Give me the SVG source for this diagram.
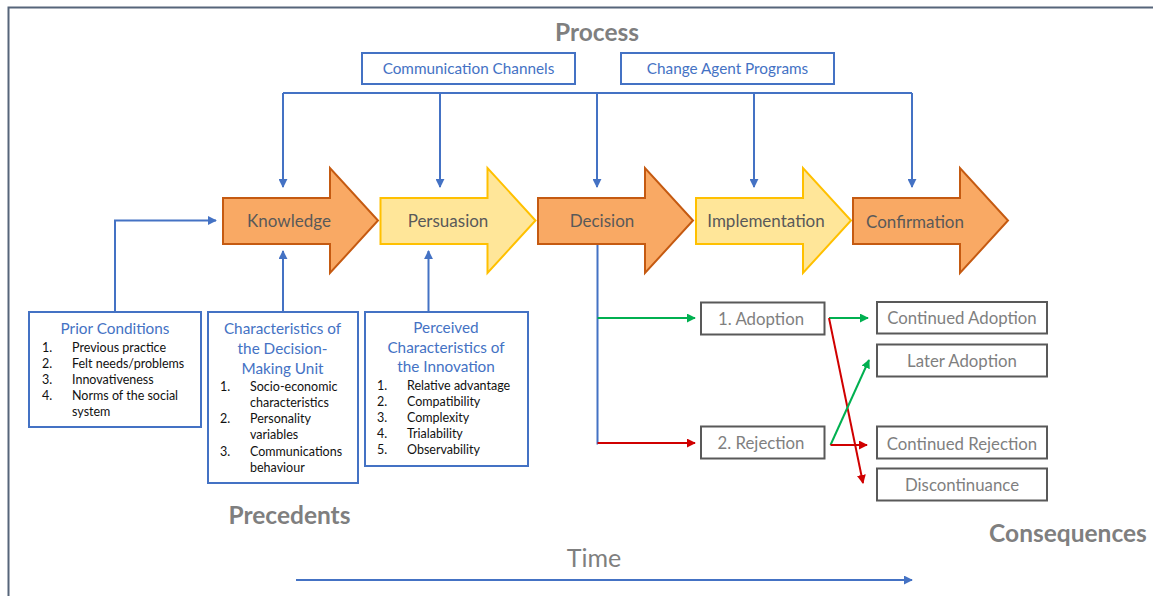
<svg xmlns="http://www.w3.org/2000/svg" width="1153" height="596" viewBox="0 0 1153 596">
<style>
text{font-family:Lato,"Open Sans","Liberation Sans",sans-serif}
.frame{fill:none;stroke:#56657a;stroke-width:2}
.big{font-size:24.5px;font-weight:bold;fill:#7f7f7f}
.bt{fill:#fff;stroke:#4472c4;stroke-width:2}
.bl{font-size:15.3px;fill:#4472c4}
.li{font-size:12.5px;fill:#111}
.orange{fill:#f9a964;stroke:#c55a11;stroke-width:2}
.yellow{fill:#ffe699;stroke:#ffc000;stroke-width:2}
.at{font-size:17px;fill:#595959}
.gb{fill:#fff;stroke:#595959;stroke-width:2}
.gt{font-size:16.8px;fill:#7f7f7f}
.cb{fill:none;stroke:#4472c4;stroke-width:2}
.cg{fill:none;stroke:#00b050;stroke-width:2}
.cr{fill:none;stroke:#d00000;stroke-width:2}
</style>
<defs>
<marker id="mb" viewBox="0 0 10 10" refX="9" refY="5" markerWidth="9" markerHeight="9" markerUnits="userSpaceOnUse" orient="auto"><path d="M0,0 L10,5 L0,10 z" fill="#4472c4"/></marker>
<marker id="mg" viewBox="0 0 10 10" refX="9" refY="5" markerWidth="9" markerHeight="9" markerUnits="userSpaceOnUse" orient="auto"><path d="M0,0 L10,5 L0,10 z" fill="#00b050"/></marker>
<marker id="mr" viewBox="0 0 10 10" refX="9" refY="5" markerWidth="9" markerHeight="9" markerUnits="userSpaceOnUse" orient="auto"><path d="M0,0 L10,5 L0,10 z" fill="#d00000"/></marker>
</defs>
<rect width="1153" height="596" fill="#fff"/>
<path class="frame" d="M8.5,596 V7.5 H1153"/>

<text class="big" x="597" y="41" text-anchor="middle">Process</text>
<text class="big" x="289.5" y="524" text-anchor="middle">Precedents</text>
<text class="big" x="1068" y="542" text-anchor="middle">Consequences</text>
<text x="594" y="567" text-anchor="middle" style="font-size:25px;fill:#7f7f7f">Time</text>

<g id="comm-channels">
<rect class="bt" x="362" y="53" width="213" height="31"/>
<text class="bl" x="468.5" y="74" text-anchor="middle">Communication Channels</text>
</g>
<g id="change-agent">
<rect class="bt" x="621" y="53" width="213" height="31"/>
<text class="bl" x="727.5" y="73.5" text-anchor="middle">Change Agent Programs</text>
</g>

<g id="knowledge">
<path class="orange" d="M223,198 H330 V168 L378,220.5 L330,273 V244 H223 Z"/>
<text class="at" x="289" y="226.5" text-anchor="middle">Knowledge</text>
</g>
<g id="persuasion">
<path class="yellow" d="M380.5,198 H487.5 V168 L535.5,220.5 L487.5,273 V244 H380.5 Z"/>
<text class="at" x="448" y="226.5" text-anchor="middle">Persuasion</text>
</g>
<g id="decision">
<path class="orange" d="M538,198 H645 V168 L693,220.5 L645,273 V244 H538 Z"/>
<text class="at" x="602" y="226.5" text-anchor="middle">Decision</text>
</g>
<g id="implementation">
<path class="yellow" d="M696,198 H803 V168 L851,220.5 L803,273 V244 H696 Z"/>
<text class="at" x="766" y="226.5" text-anchor="middle">Implementation</text>
</g>
<g id="confirmation">
<path class="orange" d="M853,198 H960 V168 L1008,220.5 L960,273 V244 H853 Z"/>
<text class="at" x="915" y="227.5" text-anchor="middle">Confirmation</text>
</g>

<g id="prior-conditions">
<rect class="bt" x="29" y="312" width="172" height="115"/>
<text class="bl" x="115" y="334" text-anchor="middle">Prior Conditions</text>
<text class="li" x="42" y="351.5">1.</text><text class="li" x="72" y="351.5">Previous practice</text>
<text class="li" x="42" y="367.5">2.</text><text class="li" x="72" y="367.5">Felt needs/problems</text>
<text class="li" x="42" y="383.5">3.</text><text class="li" x="72" y="383.5">Innovativeness</text>
<text class="li" x="42" y="399.5">4.</text><text class="li" x="72" y="399.5">Norms of the social</text>
<text class="li" x="72" y="415.5">system</text>
</g>

<g id="decision-unit">
<rect class="bt" x="208" y="312" width="150" height="171"/>
<text class="bl" x="282.5" y="334" text-anchor="middle">Characteristics of</text>
<text class="bl" x="282.5" y="354" text-anchor="middle">the Decision-</text>
<text class="bl" x="282.5" y="374" text-anchor="middle">Making Unit</text>
<text class="li" x="220" y="390.5">1.</text><text class="li" x="250" y="390.5">Socio-economic</text>
<text class="li" x="250" y="406.5">characteristics</text>
<text class="li" x="220" y="422.5">2.</text><text class="li" x="250" y="422.5">Personality</text>
<text class="li" x="250" y="438.5">variables</text>
<text class="li" x="220" y="455.5">3.</text><text class="li" x="250" y="455.5">Communications</text>
<text class="li" x="250" y="471.5">behaviour</text>
</g>

<g id="perceived">
<rect class="bt" x="365" y="312" width="163" height="154"/>
<text class="bl" x="446" y="333" text-anchor="middle">Perceived</text>
<text class="bl" x="446" y="353" text-anchor="middle">Characteristics of</text>
<text class="bl" x="446" y="372" text-anchor="middle">the Innovation</text>
<text class="li" x="377" y="390">1.</text><text class="li" x="407" y="390">Relative advantage</text>
<text class="li" x="377" y="406">2.</text><text class="li" x="407" y="406">Compatibility</text>
<text class="li" x="377" y="422">3.</text><text class="li" x="407" y="422">Complexity</text>
<text class="li" x="377" y="438">4.</text><text class="li" x="407" y="438">Trialability</text>
<text class="li" x="377" y="454">5.</text><text class="li" x="407" y="454">Observability</text>
</g>

<g id="adoption">
<rect class="gb" x="701" y="302.5" width="123.5" height="32"/>
<text class="gt" x="761" y="324.5" text-anchor="middle">1. Adoption</text>
</g>
<g id="rejection">
<rect class="gb" x="701" y="426.5" width="123.5" height="32"/>
<text class="gt" x="761" y="448.5" text-anchor="middle">2. Rejection</text>
</g>
<g id="continued-adoption">
<rect class="gb" x="877" y="302" width="170" height="31.5"/>
<text class="gt" x="962" y="324" text-anchor="middle">Continued Adoption</text>
</g>
<g id="later-adoption">
<rect class="gb" x="877" y="344.5" width="170" height="32"/>
<text class="gt" x="962" y="366.5" text-anchor="middle">Later Adoption</text>
</g>
<g id="continued-rejection">
<rect class="gb" x="877" y="426.5" width="170" height="32"/>
<text class="gt" x="962" y="449.5" text-anchor="middle">Continued Rejection</text>
</g>
<g id="discontinuance">
<rect class="gb" x="877" y="468.5" width="170" height="32"/>
<text class="gt" x="962" y="490.5" text-anchor="middle">Discontinuance</text>
</g>

<g id="connectors">
<path class="cb" d="M283,93 H912"/>
<path class="cb" d="M283,93 V187" marker-end="url(#mb)"/>
<path class="cb" d="M440,93 V187" marker-end="url(#mb)"/>
<path class="cb" d="M597,93 V187" marker-end="url(#mb)"/>
<path class="cb" d="M754,93 V187" marker-end="url(#mb)"/>
<path class="cb" d="M912,93 V187" marker-end="url(#mb)"/>
<path class="cb" d="M115,312 V220.5 H216" marker-end="url(#mb)"/>
<path class="cb" d="M283,312 V251" marker-end="url(#mb)"/>
<path class="cb" d="M428.5,312 V251" marker-end="url(#mb)"/>
<path class="cb" d="M597.5,245 V443.5 H598"/>
<path class="cg" d="M597.5,318 H695" marker-end="url(#mg)"/>
<path class="cr" d="M597.5,443 H695" marker-end="url(#mr)"/>
<path class="cg" d="M829,318 H868" marker-end="url(#mg)"/>
<path class="cr" d="M829,318 L863,483" marker-end="url(#mr)"/>
<path class="cg" d="M830.5,445 L869,360" marker-end="url(#mg)"/>
<path class="cr" d="M830.5,445 H867" marker-end="url(#mr)"/>
<path class="cb" d="M296,580 H912" marker-end="url(#mb)"/>
</g>
</svg>
